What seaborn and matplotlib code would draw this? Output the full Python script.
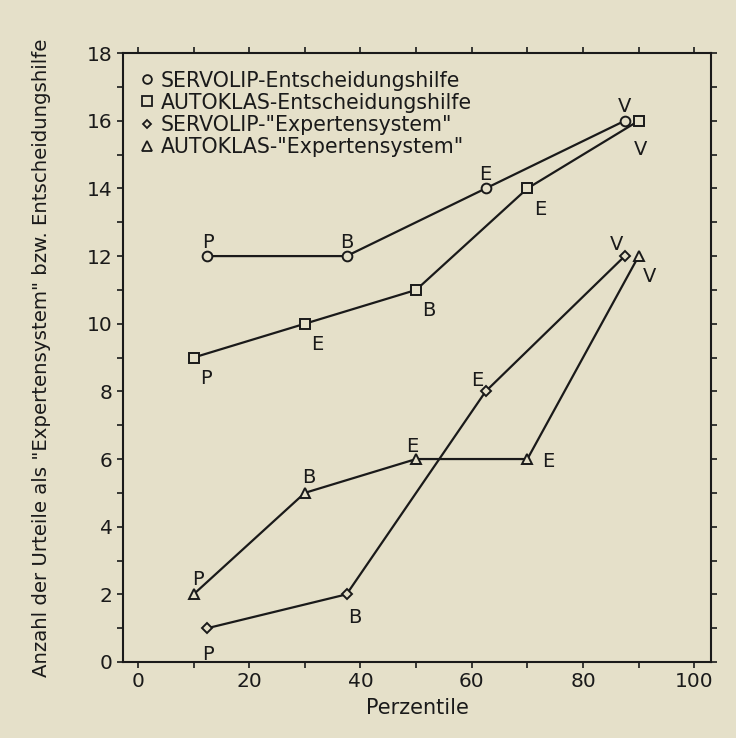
import numpy as np
import pandas as pd
import matplotlib
matplotlib.use('Agg')
import matplotlib.pyplot as plt
import seaborn as sns
from matplotlib.lines import Line2D
from matplotlib.ticker import MultipleLocator

# data
servolip_eh_x = [12.5, 37.5, 62.5, 87.5]
servolip_eh_y = [12, 12, 14, 16]
servolip_eh_lab = ['P', 'B', 'E', 'V']

autoklas_eh_x = [10, 30, 50, 70, 90]
autoklas_eh_y = [9, 10, 11, 14, 16]
autoklas_eh_lab = ['P', 'E', 'B', 'E', 'V']

servolip_ex_x = [12.5, 37.5, 62.5, 87.5]
servolip_ex_y = [1, 2, 8, 12]
servolip_ex_lab = ['P', 'B', 'E', 'V']

autoklas_ex_x = [10, 30, 50, 70, 90]
autoklas_ex_y = [2, 5, 6, 6, 12]
autoklas_ex_lab = ['P', 'B', 'E', 'E', 'V']

series_names = ['SERVOLIP-Entscheidungshilfe', 'AUTOKLAS-Entscheidungshilfe',
                'SERVOLIP-"Expertensystem"', 'AUTOKLAS-"Expertensystem"']
series_markers = ['o', 's', 'D', '^']
series_msize = [7, 7.5, 5, 7.5]

# label offsets (points) per series/point
offsets = [
    [(0, 10), (0, 10), (0, 10), (0, 10)],
    [(9, -15), (9, -15), (9, -15), (9, -15), (1, -21)],
    [(0, -19), (6, -17), (-6, 8), (-6, 8)],
    [(3, 11), (3, 11), (-3, 9), (15, -2), (8, -15)],
]

bg = '#e5e0c9'
ink = '#1a1a1a'
sns.set_theme(style='ticks')
plt.rcParams['font.family'] = ['DejaVu Sans']

fig = plt.figure(figsize=(7.36, 7.38), dpi=100)
fig.patch.set_facecolor(bg)
ax = fig.add_axes([0.167, 0.103, 0.799, 0.825])
ax.set_facecolor(bg)

all_x = [servolip_eh_x, autoklas_eh_x, servolip_ex_x, autoklas_ex_x]
all_y = [servolip_eh_y, autoklas_eh_y, servolip_ex_y, autoklas_ex_y]
all_lab = [servolip_eh_lab, autoklas_eh_lab, servolip_ex_lab, autoklas_ex_lab]

for i, name in enumerate(series_names):
    df = pd.DataFrame({'x': all_x[i], 'y': all_y[i]})
    sns.lineplot(data=df, x='x', y='y', ax=ax, color=ink, lw=1.6,
                 marker=series_markers[i], markersize=series_msize[i],
                 markerfacecolor=bg, markeredgecolor=ink,
                 markeredgewidth=1.4, sort=False, legend=False)
    for j in range(len(all_x[i])):
        ax.annotate(all_lab[i][j], (all_x[i][j], all_y[i][j]),
                    xytext=offsets[i][j], textcoords='offset points',
                    ha='center', va='center', fontsize=14, color=ink)

ax.set_xlim(-2.7, 103)
ax.set_ylim(0, 18)
ax.xaxis.set_major_locator(MultipleLocator(20))
ax.xaxis.set_minor_locator(MultipleLocator(10))
ax.yaxis.set_major_locator(MultipleLocator(2))
ax.yaxis.set_minor_locator(MultipleLocator(1))
ax.tick_params(axis='both', which='both', top=True, right=True, direction='out',
               color=ink, labelsize=14.5, labelcolor=ink, length=4, width=1.2)
for s in ax.spines.values():
    s.set_color(ink)
    s.set_linewidth(1.5)

ax.set_xlabel('Perzentile', fontsize=15, color=ink, labelpad=5)
ax.set_ylabel('Anzahl der Urteile als "Expertensystem" bzw. Entscheidungshilfe',
              fontsize=14.2, color=ink, labelpad=26)

handles = [Line2D([], [], linestyle='none', marker=m, markersize=ms * 0.9,
                  markerfacecolor=bg, markeredgecolor=ink, markeredgewidth=1.3)
           for m, ms in zip(series_markers, series_msize)]
leg = ax.legend(handles, series_names, loc='upper left', frameon=False,
                fontsize=14.8, handlelength=0.6, handletextpad=0.4,
                labelspacing=0.1, borderaxespad=0.55, borderpad=0.3)
for t in leg.get_texts():
    t.set_color(ink)

fig.savefig('out.png', dpi=100, facecolor=bg)
